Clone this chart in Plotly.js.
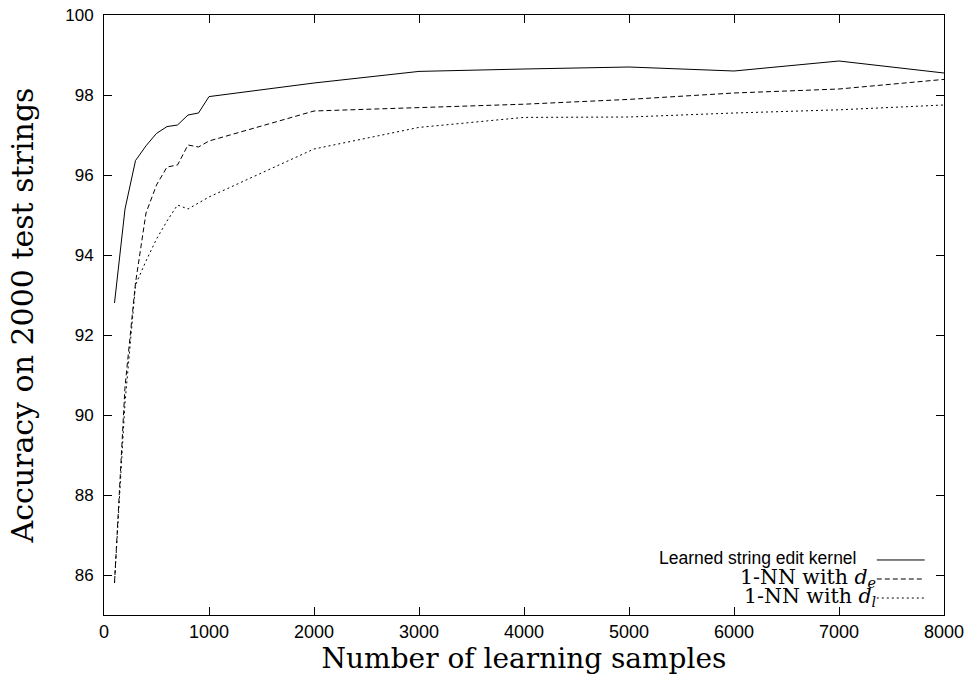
<!DOCTYPE html>
<html>
<head>
<meta charset="utf-8">
<script src="https://cdn.plot.ly/plotly-3.0.1.min.js"></script>
<style>html,body{margin:0;padding:0;background:#fff;}#chart{width:975px;height:675px;}</style>
</head>
<body>
<div id="chart"></div>
<script>
const samples = [100,200,300,400,500,600,700,800,900,1000,2000,3000,4000,5000,6000,7000,8000];
const kernelAcc = [92.8,95.15,96.36,96.73,97.04,97.21,97.25,97.5,97.55,97.96,98.3,98.59,98.65,98.7,98.6,98.85,98.55];
const nnDeAcc = [85.8,90.7,93.3,95.05,95.75,96.2,96.25,96.75,96.7,96.85,97.6,97.69,97.77,97.89,98.05,98.15,98.39];
const nnDlAcc = [85.8,90.3,93.25,93.85,94.4,94.85,95.25,95.15,95.3,95.45,96.65,97.19,97.44,97.45,97.55,97.63,97.75];
const seriesNames = ["Learned string edit kernel", "1-NN with <i>d</i><sub><i>e</i></sub>", "1-NN with <i>d</i><sub><i>l</i></sub>"];
const dashes = ["solid", "5px,3px", "2px,3px"];

const ys = [kernelAcc, nnDeAcc, nnDlAcc];
const traces = ys.map((y, i) => ({
  x: samples, y: y, type: "scatter", mode: "lines",
  line: {color: "#000", width: 1, dash: dashes[i]},
  showlegend: false, hoverinfo: "skip"
}));

const legY = [0.0917, 0.06, 0.0283];
const annotations = [];
const shapes = [];
seriesNames.forEach((n, i) => {
  annotations.push({
    xref: "paper", yref: "paper", x: i === 0 ? 0.8976 : 0.922, y: legY[i] + (i === 0 ? 0.004 : 0.002),
    xanchor: "right", yanchor: "middle",
    text: n, showarrow: false,
    font: i === 0 ? {family: "Liberation Sans, Arial, sans-serif", size: 17.5, color: "#000"}
                  : {family: "DejaVu Serif, serif", size: 20.5, color: "#000"}
  });
  shapes.push({
    type: "line", xref: "paper", yref: "paper", x0: 0.920, x1: 0.977, y0: legY[i], y1: legY[i],
    line: {color: "#000", width: 1, dash: dashes[i]}
  });
});

const layout = {
  width: 975, height: 675,
  margin: {l: 104, r: 31, t: 15, b: 60},
  paper_bgcolor: "#fff", plot_bgcolor: "#fff",
  showlegend: false,
  xaxis: {
    range: [0, 8000], dtick: 1000, tick0: 0,
    showgrid: false, zeroline: false,
    showline: true, mirror: "ticks", linecolor: "#000", linewidth: 1,
    ticks: "inside", ticklen: 8, tickcolor: "#000",
    tickfont: {family: "Liberation Sans, Arial, sans-serif", size: 18, color: "#000"},
    title: {text: "Number of learning samples", standoff: 0,
            font: {family: "DejaVu Serif, serif", size: 28, color: "#000"}}
  },
  yaxis: {
    range: [85, 100], dtick: 2, tick0: 0,
    showgrid: false, zeroline: false,
    showline: true, mirror: "ticks", linecolor: "#000", linewidth: 1,
    ticks: "inside", ticklen: 8, tickcolor: "#000",
    tickfont: {family: "Liberation Sans, Arial, sans-serif", size: 17, color: "#000"},
    ticklabelstandoff: 6,
    title: {text: "Accuracy on 2000 test strings", standoff: 22,
            font: {family: "DejaVu Serif, serif", size: 30, color: "#000"}}
  },
  annotations: annotations,
  shapes: shapes
};

Plotly.newPlot("chart", traces, layout, {displayModeBar: false, staticPlot: true});
</script>
</body>
</html>
